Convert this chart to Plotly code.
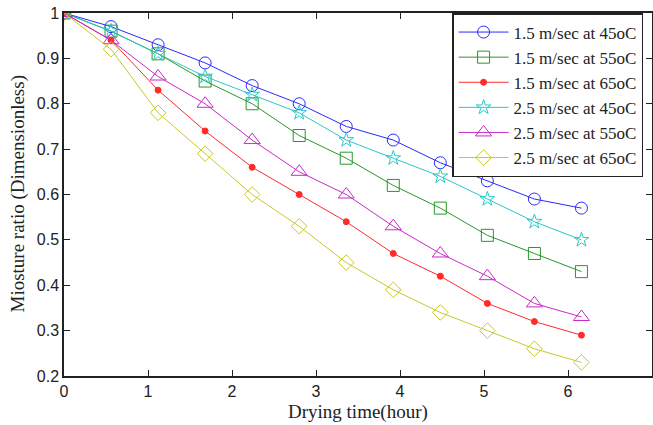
import plotly.graph_objects as go

time_h = [0, 0.56, 1.12, 1.68, 2.24, 2.8, 3.36, 3.92, 4.48, 5.04, 5.6, 6.16]

mr_15_45 = [1, 0.97, 0.93, 0.89, 0.84, 0.80, 0.75, 0.72, 0.67, 0.63, 0.59, 0.57]
mr_15_55 = [1, 0.96, 0.91, 0.85, 0.80, 0.73, 0.68, 0.62, 0.57, 0.51, 0.47, 0.43]
mr_15_65 = [1, 0.94, 0.83, 0.74, 0.66, 0.60, 0.54, 0.47, 0.42, 0.36, 0.32, 0.29]
mr_25_45 = [1, 0.96, 0.91, 0.86, 0.82, 0.78, 0.72, 0.68, 0.64, 0.59, 0.54, 0.50]
mr_25_55 = [1, 0.94, 0.86, 0.80, 0.72, 0.65, 0.60, 0.53, 0.47, 0.42, 0.36, 0.33]
mr_25_65 = [1, 0.92, 0.78, 0.69, 0.60, 0.53, 0.45, 0.39, 0.34, 0.30, 0.26, 0.23]

series_names = ["1.5 m/sec at 45oC", "1.5 m/sec at 55oC", "1.5 m/sec at 65oC",
                "2.5 m/sec at 45oC", "2.5 m/sec at 55oC", "2.5 m/sec at 65oC"]

x_ticks = [0, 1, 2, 3, 4, 5, 6, 7]
y_ticks = [0.2, 0.3, 0.4, 0.5, 0.6, 0.7, 0.8, 0.9, 1.0]
y_tick_labels = ["0.2", "0.3", "0.4", "0.5", "0.6", "0.7", "0.8", "0.9", "1"]

series = [mr_15_45, mr_15_55, mr_15_65, mr_25_45, mr_25_55, mr_25_65]
colors = ["#2a2aff", "#2a962a", "#ff2a2a", "#2ac8c8", "#c82ac8", "#c8c82a"]
symbols = ["circle-open", "square-open", "circle", "star-open", "triangle-up-open", "diamond-open"]
sizes = [12, 12, 6, 11, 14, 12]

fig = go.Figure()
for name, ys, c, s, sz in zip(series_names, series, colors, symbols, sizes):
    fig.add_trace(go.Scatter(
        x=time_h, y=ys, name=name, mode="lines+markers",
        line=dict(color=c, width=1),
        marker=dict(symbol=s, size=sz, color=c, line=dict(color=c, width=1)),
    ))

axis_common = dict(
    showline=True, linecolor="#222", linewidth=1.5, mirror="ticks",
    ticks="inside", ticklen=6, tickcolor="#222", showgrid=False, zeroline=False,
    automargin=False,
    tickfont=dict(family="Liberation Sans, Arial", size=16, color="#222"),
)

serif = "Liberation Serif, Times New Roman"

fig.update_layout(
    width=653, height=425,
    margin=dict(l=64, r=1, t=13, b=49, autoexpand=False),
    paper_bgcolor="white", plot_bgcolor="white",
    showlegend=True,
    legend=dict(
        x=0.66, y=1, xanchor="left", yanchor="top",
        bgcolor="white", bordercolor="#222", borderwidth=1.5,
        font=dict(family=serif, size=17, color="#222"),
        tracegroupgap=0, itemwidth=50,
    ),
    xaxis=dict(range=[0, 7], tickvals=x_ticks, **axis_common),
    yaxis=dict(range=[0.2, 1.0], tickvals=y_ticks, ticktext=y_tick_labels, **axis_common),
    annotations=[
        dict(text="Drying time(hour)", xref="paper", yref="paper", x=0.5, y=0,
             yshift=-36, xanchor="center", yanchor="middle", showarrow=False,
             font=dict(family=serif, size=19, color="#222")),
        dict(text="Miosture ratio (Dimensionless)", xref="paper", yref="paper", x=0, y=0.5,
             xshift=-47, xanchor="center", yanchor="middle", textangle=-90, showarrow=False,
             font=dict(family=serif, size=19, color="#222")),
    ],
)

fig.write_html("out.html", config={"displayModeBar": False},
               post_script="document.body.style.margin='0px';document.body.style.overflow='hidden';")
